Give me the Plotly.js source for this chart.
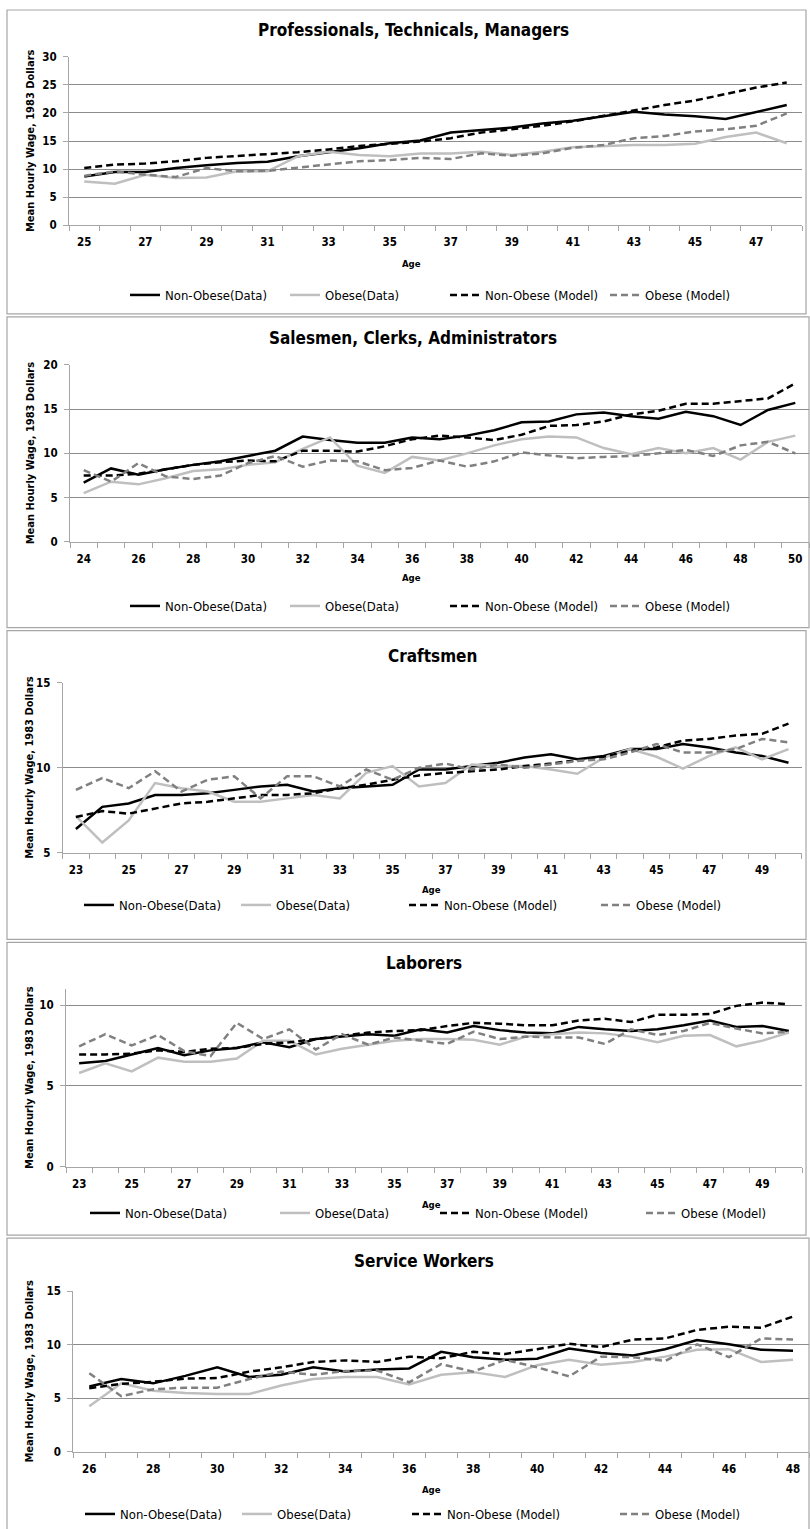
<!DOCTYPE html>
<html>
<head>
<meta charset="utf-8">
<script src="https://cdn.plot.ly/plotly-3.0.1.min.js"></script>
<style>html,body{margin:0;padding:0;background:#fff;}#chart{width:810px;height:1529px;}</style>
</head>
<body>
<div id="chart"></div>
<script>
// ---------------- DATA ----------------
const seriesNames = ['Non-Obese(Data)', 'Obese(Data)', 'Non-Obese (Model)', 'Obese (Model)'];

// Professionals, Technicals, Managers
const agesProf = [25,26,27,28,29,30,31,32,33,34,35,36,37,38,39,40,41,42,43,44,45,46,47,48];
const profTicks = [25,27,29,31,33,35,37,39,41,43,45,47];
const profNonObeseData  = [8.7,9.5,9.5,10.2,10.7,11.1,11.3,12.3,13.0,13.7,14.6,15.1,16.5,16.9,17.4,18.1,18.6,19.4,20.2,19.7,19.4,18.9,20.2,21.4];
const profObeseData     = [7.8,7.4,9.0,8.4,8.5,9.6,9.6,12.3,13.1,12.5,12.3,12.8,12.8,13.1,12.5,13.1,13.9,14.1,14.3,14.3,14.5,15.7,16.5,14.6];
const profNonObeseModel = [10.2,10.8,11.0,11.4,12.0,12.3,12.7,13.0,13.5,14.1,14.5,14.9,15.5,16.5,17.1,17.7,18.5,19.5,20.4,21.4,22.2,23.4,24.5,25.4];
const profObeseModel    = [8.8,9.6,9.0,8.6,10.2,9.6,9.7,10.3,10.8,11.4,11.6,12.0,11.8,12.8,12.4,12.8,13.8,14.3,15.5,15.9,16.7,17.1,17.7,19.9];

// Salesmen, Clerks, Administrators
const agesSales = [24,25,26,27,28,29,30,31,32,33,34,35,36,37,38,39,40,41,42,43,44,45,46,47,48,49,50];
const salesTicks = [24,26,28,30,32,34,36,38,40,42,44,46,48,50];
const salesNonObeseData  = [6.7,8.3,7.6,8.2,8.7,9.1,9.7,10.3,11.9,11.5,11.2,11.2,11.8,11.6,12.0,12.6,13.5,13.6,14.4,14.6,14.2,13.9,14.7,14.2,13.2,14.9,15.7];
const salesObeseData     = [5.5,6.8,6.5,7.2,8.0,8.2,8.7,9.0,10.5,11.8,8.6,7.8,9.6,9.2,10.0,10.9,11.6,11.9,11.8,10.6,9.9,10.6,10.0,10.6,9.3,11.3,12.0];
const salesNonObeseModel = [7.5,7.5,7.7,8.2,8.7,9.0,9.2,9.1,10.3,10.3,10.2,10.8,11.6,12.0,11.8,11.5,12.1,13.1,13.2,13.6,14.4,14.8,15.6,15.6,15.9,16.2,17.9];
const salesObeseModel    = [8.1,6.8,8.9,7.4,7.1,7.5,8.9,9.7,8.5,9.2,9.1,8.1,8.35,9.2,8.5,9.1,10.1,9.8,9.45,9.6,9.7,10.0,10.4,9.7,10.9,11.3,10.0];

// Craftsmen
const agesCraft = [23,24,25,26,27,28,29,30,31,32,33,34,35,36,37,38,39,40,41,42,43,44,45,46,47,48,49,50];
const craftTicks = [23,25,27,29,31,33,35,37,39,41,43,45,47,49];
const craftNonObeseData  = [6.4,7.7,7.9,8.4,8.4,8.5,8.7,8.9,9.0,8.6,8.8,8.9,9.0,9.9,9.9,10.1,10.3,10.6,10.8,10.5,10.7,11.1,11.1,11.4,11.2,10.9,10.7,10.3];
const craftObeseData     = [7.15,5.6,6.9,9.1,8.8,8.6,8.0,8.0,8.2,8.4,8.2,9.7,10.1,8.9,9.1,10.2,10.1,10.1,9.9,9.65,10.6,11.1,10.65,9.95,10.7,11.2,10.5,11.1];
const craftNonObeseModel = [7.1,7.45,7.3,7.6,7.9,8.0,8.2,8.4,8.4,8.5,8.8,9.0,9.3,9.55,9.7,9.8,9.9,10.1,10.25,10.45,10.65,11.0,11.2,11.6,11.7,11.9,12.0,12.6];
const craftObeseModel    = [8.7,9.4,8.8,9.8,8.6,9.3,9.5,8.2,9.5,9.5,8.9,9.9,9.3,10.0,10.25,9.9,10.2,10.0,10.2,10.4,10.5,10.9,11.4,10.9,10.9,11.1,11.7,11.5];

// Laborers
const agesLab = [23,24,25,26,27,28,29,30,31,32,33,34,35,36,37,38,39,40,41,42,43,44,45,46,47,48,49,50];
const labTicks = [23,25,27,29,31,33,35,37,39,41,43,45,47,49];
const labNonObeseData  = [6.4,6.55,6.95,7.35,6.9,7.2,7.35,7.7,7.4,7.9,8.05,8.2,8.1,8.5,8.3,8.7,8.45,8.3,8.25,8.65,8.5,8.4,8.5,8.75,9.05,8.65,8.7,8.4];
const labObeseData     = [5.8,6.4,5.9,6.75,6.5,6.5,6.7,7.8,7.8,6.95,7.3,7.55,7.8,7.9,7.9,7.85,7.55,8.05,8.2,8.3,8.25,8.05,7.7,8.1,8.15,7.45,7.8,8.3];
const labNonObeseModel = [6.95,6.95,7.0,7.2,7.1,7.3,7.35,7.6,7.7,7.9,8.1,8.3,8.4,8.45,8.7,8.9,8.85,8.75,8.75,9.05,9.15,8.95,9.4,9.4,9.45,9.95,10.15,10.05];
const labObeseModel    = [7.45,8.2,7.5,8.15,7.15,6.85,8.9,7.9,8.5,7.25,8.2,7.55,8.0,7.8,7.6,8.35,7.9,8.05,8.0,8.0,7.6,8.5,8.15,8.4,8.9,8.55,8.25,8.35];

// Service Workers
const agesServ = [26,27,28,29,30,31,32,33,34,35,36,37,38,39,40,41,42,43,44,45,46,47,48];
const servTicks = [26,28,30,32,34,36,38,40,42,44,46,48];
const servNonObeseData  = [6.1,6.8,6.4,7.1,7.9,7.0,7.2,7.9,7.5,7.7,7.8,9.35,8.85,8.6,8.7,9.65,9.25,9.0,9.6,10.45,10.05,9.55,9.45];
const servObeseData     = [4.25,6.4,5.7,5.5,5.4,5.4,6.2,6.8,7.0,7.0,6.3,7.2,7.45,7.0,8.1,8.6,8.15,8.4,8.9,9.55,9.6,8.4,8.6];
const servNonObeseModel = [5.95,6.35,6.55,6.85,6.9,7.5,7.9,8.4,8.55,8.4,8.9,8.75,9.35,9.15,9.6,10.1,9.8,10.5,10.6,11.4,11.7,11.6,12.65];
const servObeseModel    = [7.35,5.2,5.85,6.0,6.0,6.8,7.5,7.2,7.55,7.6,6.5,8.2,7.5,8.6,7.9,7.05,8.9,8.85,8.5,10.05,8.85,10.6,10.5];

const yTitleText = 'Mean Hourly Wage, 1983 Dollars';
const xTitleText = 'Age';

// ---------------- LAYOUT / STYLE ----------------
const W = 810, H = 1529;
const fx = p => p / W;
const fy = p => 1 - p / H;
const FONT = 'Liberation Sans Narrow, Arial Narrow, DejaVu Sans Condensed, sans-serif';

const lineStyles = [
  {color: '#000000', width: 2.5, dash: 'solid'},
  {color: '#bfbfbf', width: 2.5, dash: 'solid'},
  {color: '#000000', width: 2.5, dash: '7px,4px'},
  {color: '#808080', width: 2.5, dash: '7px,4px'}
];

const panels = [
  {title: 'Professionals, Technicals, Managers', ages: agesProf, ticks: profTicks,
   series: [profNonObeseData, profObeseData, profNonObeseModel, profObeseModel],
   yRange: [0, 30], yTicks: [0,5,10,15,20,25,30],
   box: [7, 10, 806, 314], px: [69, 802], py: [56.7, 225.5], titleXY: [413, 30],
   ageXY: [411, 264], legY: 295, legX: [130, 290, 450, 610]},
  {title: 'Salesmen, Clerks, Administrators', ages: agesSales, ticks: salesTicks,
   series: [salesNonObeseData, salesObeseData, salesNonObeseModel, salesObeseModel],
   yRange: [0, 20], yTicks: [0,5,10,15,20],
   box: [7, 317, 809, 628], px: [70, 809], py: [365, 542.3], titleXY: [413, 338],
   ageXY: [411, 578], legY: 606, legX: [130, 290, 450, 610]},
  {title: 'Craftsmen', ages: agesCraft, ticks: craftTicks,
   series: [craftNonObeseData, craftObeseData, craftNonObeseModel, craftObeseModel],
   yRange: [5, 15], yTicks: [5,10,15],
   box: [7, 631, 806, 940], px: [62.7, 801.7], py: [683.3, 853.3], titleXY: [432, 656],
   ageXY: [431, 890], legY: 905, legX: [84, 241, 409, 601]},
  {title: 'Laborers', ages: agesLab, ticks: labTicks,
   series: [labNonObeseData, labObeseData, labNonObeseModel, labObeseModel],
   yRange: [0, 11], yTicks: [0,5,10],
   box: [7, 943, 806, 1236], px: [66, 802], py: [989.5, 1167.7], titleXY: [424, 964],
   ageXY: [431, 1205], legY: 1213, legX: [90, 280, 440, 646]},
  {title: 'Service Workers', ages: agesServ, ticks: servTicks,
   series: [servNonObeseData, servObeseData, servNonObeseModel, servObeseModel],
   yRange: [0, 15], yTicks: [0,5,10,15],
   box: [7, 1239, 809, 1540], px: [73.3, 809], py: [1292.3, 1452.7], titleXY: [424, 1262],
   ageXY: [431, 1490], legY: 1515, legX: [85, 242, 412, 620]}
];

const traces = [];
const layout = {
  width: W, height: H,
  margin: {l: 0, r: 0, t: 0, b: 0},
  paper_bgcolor: '#ffffff', plot_bgcolor: '#ffffff',
  font: {family: FONT, color: '#000000', size: 12},
  shapes: [], annotations: []
};

panels.forEach((p, pi) => {
  const n = pi + 1;
  const xa = 'xaxis' + (n === 1 ? '' : n);
  const ya = 'yaxis' + (n === 1 ? '' : n);
  const xr = 'x' + (n === 1 ? '' : n);
  const yr = 'y' + (n === 1 ? '' : n);
  const first = p.ages[0], last = p.ages[p.ages.length - 1];

  layout[xa] = {
    domain: [fx(p.px[0]), fx(p.px[1])], anchor: yr, type: 'linear',
    range: [first - 0.5, last + 0.5],
    tickmode: 'array', tickvals: p.ticks, ticks: '',
    showline: true, linecolor: '#a6a6a6', linewidth: 1,
    showgrid: false, zeroline: false,
    tickfont: {family: FONT, size: 11.5, weight: 'bold', color: '#000'},
    ticklabelstandoff: 6,
    minor: {tickmode: 'linear', tick0: first - 0.5, dtick: 1, ticks: 'outside', ticklen: 5,
            tickcolor: '#a6a6a6', tickwidth: 1, showgrid: false}
  };
  layout[ya] = {
    domain: [fy(p.py[1]), fy(p.py[0])], anchor: xr,
    range: p.yRange, tickmode: 'array', tickvals: p.yTicks,
    ticks: 'outside', ticklen: 5, tickcolor: '#a6a6a6',
    showline: true, linecolor: '#a6a6a6', linewidth: 1,
    showgrid: true, gridcolor: '#8c8c8c', gridwidth: 1, zeroline: false,
    tickfont: {family: FONT, size: 11.5, weight: 'bold', color: '#000'},
    ticklabelstandoff: 4
  };

  p.series.forEach((vals, si) => {
    const li = pi * 4 + si + 1;
    const legName = 'legend' + (li === 1 ? '' : li);
    traces.push({
      type: 'scatter', mode: 'lines', x: p.ages, y: vals,
      xaxis: xr, yaxis: yr, name: seriesNames[si],
      line: lineStyles[si], legend: legName, showlegend: true, hoverinfo: 'skip'
    });
    layout[legName] = {
      orientation: 'h', x: fx(p.legX[si] - 5), y: fy(p.legY),
      xanchor: 'left', yanchor: 'middle', bgcolor: 'rgba(0,0,0,0)', borderwidth: 0,
      font: {family: FONT, size: 13, color: '#000'}, itemwidth: 30
    };
  });

  // panel frame
  layout.shapes.push({type: 'rect', xref: 'paper', yref: 'paper', layer: 'below',
    x0: fx(p.box[0]), x1: fx(p.box[2]), y0: fy(p.box[3]), y1: fy(p.box[1]),
    line: {color: '#a6a6a6', width: 1.2}, fillcolor: 'rgba(0,0,0,0)'});

  // panel title
  layout.annotations.push({xref: 'paper', yref: 'paper', x: fx(p.titleXY[0]), y: fy(p.titleXY[1]),
    xanchor: 'center', yanchor: 'middle', showarrow: false, text: p.title,
    font: {family: FONT, size: 17, weight: 'bold', color: '#000'}});
  // y-axis title
  layout.annotations.push({xref: 'paper', yref: 'paper', x: fx(30), y: fy((p.py[0] + p.py[1]) / 2),
    xanchor: 'center', yanchor: 'middle', showarrow: false, text: yTitleText, textangle: -90,
    font: {family: FONT, size: 11, weight: 'bold', color: '#000'}});
  // x-axis title
  layout.annotations.push({xref: 'paper', yref: 'paper', x: fx(p.ageXY[0]), y: fy(p.ageXY[1]),
    xanchor: 'center', yanchor: 'middle', showarrow: false, text: xTitleText,
    font: {family: FONT, size: 9.5, weight: 'bold', color: '#000'}});
});

Plotly.newPlot('chart', traces, layout, {staticPlot: true, displayModeBar: false});
</script>
</body>
</html>
